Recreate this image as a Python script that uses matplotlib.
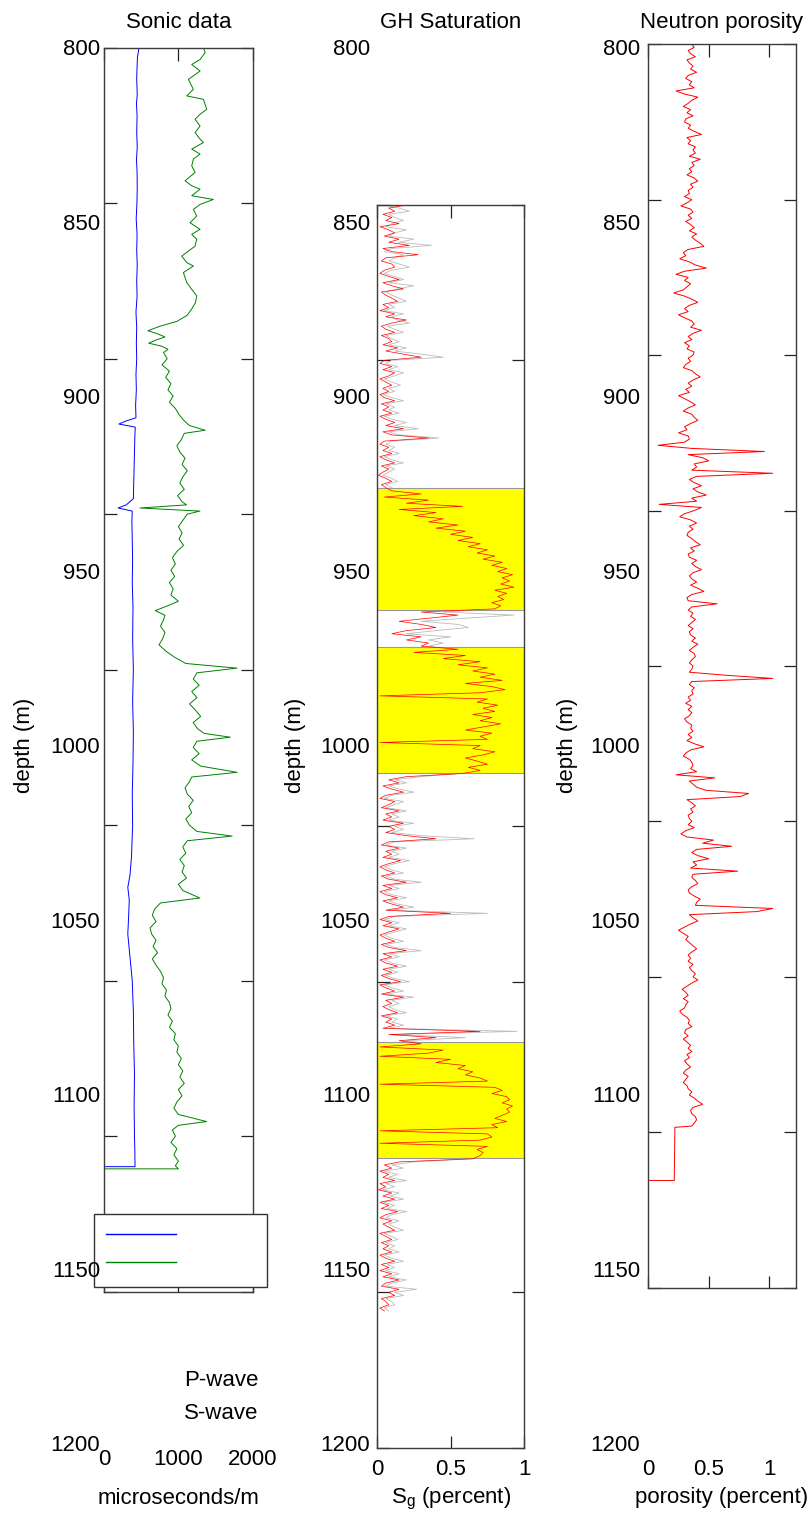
import numpy as np
import matplotlib
matplotlib.use('Agg')
import matplotlib.pyplot as plt

plt.rcParams['font.family'] = ['Liberation Sans', 'DejaVu Sans']
plt.rcParams['mathtext.fontset'] = 'custom'
plt.rcParams['mathtext.rm'] = 'Liberation Sans'
plt.rcParams['mathtext.it'] = 'Liberation Sans:italic'

# ---------------- data ----------------
depth_ticks = [800, 850, 900, 950, 1000, 1050, 1100, 1150, 1200]
depth_ticklabels = ['800', '850', '900', '950', '1000', '1050', '1100', '1150', '1200']

sonic_xticks = [0, 1000, 2000]
sonic_xticklabels = ['0', '1000', '2000']
gh_xticks = [0, 0.5, 1]
gh_xticklabels = ['0', '0.5', '1']
neut_xticks = [0, 0.5, 1]
neut_xticklabels = ['0', '0.5', '1']

sonic_p_depth = [800, 803, 806, 810, 815, 818, 822, 827, 832, 836, 840, 845, 850, 855, 860, 865,
                 870, 875, 880, 885, 890, 895, 900, 905, 910, 915, 919, 920, 921, 922, 925, 930,
                 935, 940, 945, 947, 948, 949, 952, 958, 965, 972, 980, 990, 1000, 1010, 1020,
                 1030, 1040, 1050, 1060, 1066, 1070, 1074, 1080, 1085, 1090, 1095, 1100, 1110,
                 1120, 1130, 1140, 1150, 1155, 1159.8, 1159.8]
sonic_p = [471, 450, 445, 440, 447, 437, 445, 440, 447, 437, 445, 447, 443, 433, 445, 440,
           447, 440, 445, 430, 440, 435, 440, 430, 435, 425, 430, 300, 200, 420, 415, 410,
           405, 400, 395, 300, 190, 380, 375, 380, 385, 380, 390, 385, 395, 385, 395,
           390, 380, 385, 370, 350, 320, 340, 330, 320, 340, 360, 380, 395,
           400, 410, 405, 410, 415, 417, 0]

sonic_s_depth = [800, 801.6, 803.8, 805.4, 807.5, 810.2, 813.4, 815.5, 816.6, 819.8, 821.4, 823,
                 825.2, 827.3, 829.4, 830.5, 832.6, 834.2, 835.8, 838, 840.1, 842.8, 844.4,
                 845.5, 847.6, 848.8, 850.4, 852, 854.1, 856.3, 858.4, 860, 861.6, 863.8, 867,
                 869.1, 870.2, 872.3, 875.5, 877.7, 879.8,
                 882, 884, 886, 888, 889.5, 891, 892, 893, 894, 895, 896, 897, 898, 900, 902, 904,
                 906, 908, 910, 912, 914, 916, 918, 920, 921.5, 923, 924, 926, 928, 930, 932, 934,
                 936, 938, 940, 942, 944, 946, 947, 948, 949, 950, 952, 954, 956, 958, 960, 962,
                 964, 966, 968, 970, 972, 974, 976, 978, 979.5, 981, 982.5, 984, 986, 988, 990,
                 992, 994, 996, 998, 999.5, 1001, 1003, 1005, 1007, 1009, 1011, 1013, 1015, 1017,
                 1019, 1020.5, 1021.7, 1023, 1025, 1027, 1029, 1031, 1033, 1034.5, 1036, 1038,
                 1040, 1042, 1044, 1046, 1048, 1050, 1052, 1053.5, 1055, 1057, 1059, 1061, 1063,
                 1065, 1067, 1069, 1071, 1073.4, 1075, 1077, 1079, 1081, 1083, 1085, 1087, 1089,
                 1091, 1093, 1095, 1097, 1099, 1101, 1103, 1105, 1107, 1109, 1111, 1113, 1115,
                 1117, 1119, 1121, 1123, 1125, 1127, 1129, 1131, 1133, 1135, 1137, 1139, 1141,
                 1143, 1145.3, 1146.5, 1148, 1150, 1152, 1154, 1156, 1158, 1159.5, 1160.5, 1160.5]
sonic_s = [1337, 1360, 1292, 1180, 1292, 1135, 1202, 1113, 1337, 1382, 1292, 1225,
           1292, 1225, 1292, 1337, 1180, 1292, 1202, 1180, 1225, 1090, 1180,
           1292, 1180, 1471, 1292, 1202, 1247, 1158, 1292, 1180, 1247, 1225, 1046,
           1113, 1202, 1068, 1113, 1180, 1247,
           1230, 1180, 1120, 980, 760, 590, 720, 820, 700, 600, 780, 860, 800, 850, 780, 880,
           830, 900, 860, 930, 880, 960, 1010, 1080, 1150, 1360, 1080, 1040, 980, 1020, 1090, 1050,
           1120, 1060, 1020, 1080, 990, 1050, 1110, 485, 1290, 1120, 1060, 1000, 1050, 1010, 1070, 980,
           920, 960, 900, 950, 880, 930, 900, 1000, 850, 690, 820, 800, 760, 820, 790,
           740, 830, 950, 1100, 1790, 1250, 1200, 1280, 1180, 1250, 1150, 1230, 1300, 1200,
           1260, 1350, 1700, 1250, 1200, 1280, 1180, 1300, 1790, 1180, 1150, 1090,
           1120, 1200, 1140, 1180, 1100, 1150, 1250, 1723, 1120, 1060, 1100, 1020, 1080,
           1050, 1110, 1000, 1060, 1290, 760, 680, 650, 700, 620, 640, 700, 660,
           720, 650, 700, 760, 800, 780, 840, 820, 880, 900, 860, 920, 880,
           960, 940, 1000, 980, 1040, 1000, 1060, 1020, 1080, 1000, 1050, 980, 940,
           1000, 1380, 1000, 920, 960, 900, 980, 940, 1000, 960, 1000, 0]

# GH saturation, 1 m samples 800..1156
gh_depth = np.arange(800, 1157, 1)
gh_gray = [
    # 800-891
    .05, .15, .22, .08, .12, .18, .10, .06, .20, .12,
    .08, .25, .15, .37, .10, .05, .18, .12, .08, .15,
    .22, .10, .05, .12, .18, .08, .25, .14, .06, .10,
    .15, .20, .08, .12, .05, .18, .10, .14, .22, .07,
    .12, .18, .06, .10, .15, .08, .20, .12, .30, .45,
    .10, .06, .14, .08, .18, .12, .05, .10, .16, .08,
    .12, .04, .10, .18, .06, .12, .08, .15, .05, .10,
    .20, .12, .28, .08, .15, .42, .10, .06, .12, .08,
    .15, .05, .10, .18, .06, .12, .08, .04, .10, .14,
    .06, .10,
    # 892-930
    .15, .25, .10, .30, .25, .50, .20, .35, .30, .45,
    .40, .50, .45, .55, .55, .60, .60, .65, .65, .70,
    .70, .75, .75, .80, .80, .85, .82, .88, .85, .86,
    .85, .88, .82, .85, .82, .84, .80, .82, .78,
    # 931-941
    .45, .93, .60, .30, .55, .62, .40, .20, .50, .35, .45,
    # 942-983
    .35, .50, .30, .55, .50, .65, .60, .70, .68, .75,
    .72, .80, .65, .75, .82, .72, .30, .72, .70, .78,
    .74, .78, .68, .75, .72, .80, .74, .65, .75, .72,
    .74, .30, .72, .68, .78, .72, .65, .70, .72, .65,
    .68, .55,
    # 984-1069
    .30, .12, .20, .08, .15, .25, .10, .05, .18, .12,
    .06, .20, .10, .15, .08, .25, .12, .18, .10, .30,
    .66, .12, .06, .20, .10, .15, .08, .22, .12, .05,
    .10, .18, .06, .12, .30, .08, .15, .05, .10, .20,
    .08, .14, .25, .10, .75, .12, .05, .15, .08, .20,
    .12, .05, .10, .18, .06, .12, .30, .08, .15, .05,
    .10, .20, .08, .14, .06, .12, .22, .05, .10, .18,
    .06, .25, .10, .15, .08, .12, .20, .06, .14, .10,
    .18, .08, .95, .12, .60, .20,
    # 1070-1107
    .35, .20, .45, .40, .30, .50, .45, .58, .55, .62,
    .62, .68, .72, .40, .78, .82, .78, .85, .86, .84,
    .88, .86, .87, .84, .80, .85, .78, .80, .40, .75,
    .76, .72, .40, .72, .70, .72, .70, .65,
    # 1108-1156
    .25, .10, .18, .05, .14, .08, .20, .06, .12, .04,
    .15, .09, .18, .05, .12, .07, .20, .10, .06, .15,
    .08, .12, .18, .05, .10, .14, .06, .12, .08, .15,
    .05, .10, .18, .07, .12, .06, .15, .08, .20, .10,
    .06, .27, .12, .18, .06, .10, .12, .05, .08]
gh_red = [
    # 800-891
    .20, .08, .12, .04, .10, .06, .15, .02, .08, .12,
    .05, .15, .08, .22, .04, .10, .28, .06, .03, .10,
    .12, .05, .02, .08, .15, .04, .10, .18, .03, .06,
    .10, .14, .04, .08, .02, .12, .06, .20, .10, .03,
    .06, .12, .03, .08, .10, .04, .14, .06, .18, .30,
    .05, .02, .10, .04, .12, .08, .02, .06, .10, .04,
    .08, .02, .05, .12, .03, .08, .04, .10, .02, .06,
    .12, .06, .18, .04, .10, .35, .05, .02, .08, .04,
    .10, .02, .06, .12, .03, .08, .04, .01, .06, .10,
    .03, .06,
    # 892-930
    .10, .30, .05, .35, .20, .58, .15, .40, .25, .45,
    .35, .55, .40, .60, .50, .65, .55, .70, .62, .75,
    .68, .80, .72, .85, .78, .88, .82, .92, .85, .90,
    .84, .93, .80, .88, .82, .86, .78, .84, .80,
    # 931-941
    .30, .55, .35, .15, .30, .40, .20, .10, .30, .20, .35,
    # 942-983
    .30, .55, .25, .60, .45, .70, .55, .75, .65, .80,
    .70, .85, .60, .78, .87, .70, .02, .75, .68, .82,
    .72, .80, .65, .78, .70, .84, .72, .60, .78, .70,
    .75, .02, .70, .65, .80, .72, .60, .68, .75, .62,
    .70, .58,
    # 984-1069
    .20, .08, .15, .04, .10, .18, .06, .02, .12, .08,
    .03, .15, .06, .10, .04, .18, .08, .12, .06, .20,
    .40, .08, .03, .15, .06, .10, .04, .16, .08, .02,
    .06, .12, .03, .08, .20, .04, .10, .02, .06, .14,
    .04, .10, .18, .06, .50, .08, .02, .10, .04, .15,
    .08, .02, .06, .12, .03, .08, .20, .04, .10, .02,
    .06, .14, .04, .10, .03, .08, .16, .02, .06, .12,
    .03, .18, .06, .10, .04, .08, .14, .03, .10, .06,
    .12, .04, .70, .08, .40, .15,
    # 1070-1107
    .30, .02, .45, .35, .02, .50, .40, .60, .55, .65,
    .60, .70, .75, .02, .80, .85, .78, .88, .90, .85,
    .92, .88, .90, .85, .80, .88, .78, .82, .02, .75,
    .78, .70, .02, .75, .68, .72, .70, .65,
    # 1108-1156
    .15, .05, .10, .02, .08, .04, .12, .02, .06, .01,
    .10, .04, .12, .02, .08, .03, .14, .06, .02, .10,
    .04, .08, .12, .02, .06, .10, .03, .08, .04, .10,
    .02, .06, .12, .03, .08, .02, .10, .04, .15, .06,
    .03, .15, .08, .12, .03, .06, .08, .02, .05]
gh_zone_top = [891.1, 942.2, 1069.4]
gh_zone_bottom = [930.3, 982.8, 1106.7]

# neutron porosity, 1 m samples 800..1148, then the bottom step
neut_depth_main = np.arange(800, 1149, 1)
neut_por_main = [
    .36, .38, .33, .35, .39, .32, .34, .37, .35, .40, .33, .31, .36, .34, .38, .23, .30, .41, .36, .33,
    .29, .35, .32, .37, .31, .30, .35, .33, .38, .44, .32, .35, .33, .39, .37, .39, .34, .43, .36, .38,
    .34, .36, .32, .38, .41, .35, .37, .33, .34, .30, .36, .32, .27, .35, .37, .33, .36, .31, .35, .38,
    .34, .40, .36, .39, .43, .46, .33, .29, .31, .26, .34, .39, .48, .30, .23, .33, .30, .35, .32, .29,
    .21, .30, .36, .41, .34, .30, .33, .25, .30, .36, .38, .35, .44, .37, .33, .36, .30, .34, .32, .38,
    .37, .33, .35, .31, .29, .36, .39, .43, .37, .33, .36, .31, .34, .25, .30, .35, .39, .33, .29, .36,
    .38, .41, .35, .30, .32, .25, .33, .34, .30, .08, .36, .96, .33, .45, .50, .38, .40, .36, 1.03, .40,
    .34, .38, .44, .37, .41, .48, .36, .40, .09, .44, .38, .30, .26, .35, .40, .34, .37, .33, .32, .36,
    .39, .43, .35, .38, .33, .34, .40, .36, .39, .44, .37, .34, .36, .40, .35, .41, .46, .36, .32, .33,
    .57, .36, .33, .37, .35, .39, .36, .33, .37, .34, .35, .39, .36, .41, .37, .34, .38, .39, .36, .34,
    .37, .36, .34, .65, 1.03, .36, .34, .38, .36, .37, .33, .35, .31, .36, .33, .36, .34, .30, .32, .36,
    .35, .37, .33, .36, .32, .38, .46, .35, .31, .29, .34, .36, .37, .35, .40, .23, .55, .34, .37, .40,
    .48, .83, .76, .32, .36, .39, .35, .37, .33, .34, .36, .33, .38, .31, .27, .32, .54, .45, .69, .40,
    .36, .41, .50, .37, .40, .35, .74, .37, .36, .39, .41, .36, .33, .34, .38, .43, .40, .39, 1.03, .90,
    .34, .37, .41, .35, .30, .25, .29, .33, .31, .34, .37, .40, .36, .33, .35, .33, .37, .34, .36, .39,
    .37, .41, .36, .32, .28, .31, .33, .29, .33, .31, .30, .26, .28, .32, .34, .33, .36, .31, .30, .33,
    .29, .32, .35, .33, .36, .32, .34, .30, .32, .35, .31, .29, .33, .31, .29, .32, .33, .36, .34, .38,
    .41, .45, .37, .35, .36, .39, .40, .38, .36]
neut_depth_step = [1148.4, 1165.5, 1165.5]
neut_por_step = [0.22, 0.215, 0.0]

# ---------------- layout ----------------
W, H = 809, 1519
FS = 16
LW = 0.7
fig = plt.figure(figsize=(W / 100, H / 100), dpi=100)


def axes_px(x0, y0, x1, y1):
    return fig.add_axes([x0 / W, 1 - y1 / H, (x1 - x0) / W, (y1 - y0) / H])


def data_axes(x0, y0, x1, y1, xlim, xticks):
    ax = axes_px(x0, y0, x1, y1)
    ax.set_xlim(*xlim)
    ax.set_ylim(1200, 800)
    ax.set_xticks(xticks)
    ax.set_yticks(depth_ticks)
    ax.tick_params(direction='in', length=9, width=0.9, color='#222222', top=True, right=True,
                   labelbottom=False, labelleft=False)
    for s in ax.spines.values():
        s.set_color('#3c3c3c')
        s.set_linewidth(1.0)
    return ax


def label_axes(x0, x1, xlim, xticks, xticklabels, xlabel, title, ypad, xpad, ylab_x):
    y0, y1 = 47.2, 1443.3
    ax = axes_px(x0, y0, x1, y1)
    ax.set_facecolor('none')
    for s in ax.spines.values():
        s.set_visible(False)
    ax.set_xlim(*xlim)
    ax.set_ylim(1200, 800)
    ax.set_yticks(depth_ticks)
    ax.set_yticklabels(depth_ticklabels)
    ax.set_xticks(xticks)
    ax.set_xticklabels(xticklabels)
    ax.tick_params(axis='y', length=0, pad=ypad, labelsize=FS)
    ax.tick_params(axis='x', length=0, pad=xpad, labelsize=FS)
    ax.set_title(title, fontsize=FS, pad=13.5)
    ax.set_xlabel(xlabel, fontsize=FS)
    ax.xaxis.set_label_coords(0.5, -(1503.5 - y1) / (y1 - y0))
    ax.xaxis.label.set_verticalalignment('baseline')
    ax.set_ylabel('depth (m)', fontsize=FS)
    ax.yaxis.set_label_coords((ylab_x - x0) / (x1 - x0), 0.5)
    ax.yaxis.label.set_verticalalignment('center')
    return ax


# Sonic panel
ax1 = data_axes(104, 47.7, 252.7, 1291.7, (0, 2000), sonic_xticks)
lp, = ax1.plot(sonic_p, sonic_p_depth, color='#0000ff', lw=LW)
ls, = ax1.plot(sonic_s, sonic_s_depth, color='#008000', lw=LW)
leg = ax1.legend([lp, ls], ['', ''], loc='upper left', bbox_to_anchor=(93.5 / W, 1 - 1213.7 / H),
                 bbox_transform=fig.transFigure, borderaxespad=0, fancybox=False,
                 edgecolor='#333333', framealpha=1, fontsize=FS, handlelength=3.15,
                 handletextpad=3.55, borderpad=0.55, labelspacing=0.3)
leg.get_frame().set_linewidth(1.0)
for h in leg.legend_handles:
    h.set_linewidth(1.0)
fig.text(184.3 / W, 1 - 1378 / H, 'P-wave', fontsize=FS, ha='left', va='center_baseline')
fig.text(184.3 / W, 1 - 1410.7 / H, 'S-wave', fontsize=FS, ha='left', va='center_baseline')

# GH saturation panel
ax2 = data_axes(377, 205, 524.3, 1447.7, (0, 1), gh_xticks)
ax2.plot(gh_gray, gh_depth, color='#bcbcbc', lw=0.6, zorder=1)
for t, b in zip(gh_zone_top, gh_zone_bottom):
    ax2.axhspan(t, b, facecolor='#ffff00', edgecolor='#9a9a9a', lw=0.8, zorder=2)
ax2.plot(gh_red, gh_depth, color='#ff0000', lw=0.5, zorder=3)

# Neutron porosity panel
ax3 = data_axes(648.3, 44.3, 795.7, 1287.7, (0, 1.22), neut_xticks)
ax3.plot(list(neut_por_main) + neut_por_step, list(neut_depth_main) + neut_depth_step,
         color='#ff0000', lw=LW)

# label layers (MATLAB-style shifted labels)
label_axes(104, 252.7, (0, 2000), sonic_xticks, sonic_xticklabels, 'microseconds/m',
           'Sonic data', 2.9, 4.0, 25)
label_axes(377, 524.3, (0, 1), gh_xticks, gh_xticklabels, 'S$_\\mathrm{g}$ (percent)',
           'GH Saturation', 5.0, 11.2, 296)
label_axes(648.3, 795.7, (0, 1.22), neut_xticks, neut_xticklabels, 'porosity (percent)',
           'Neutron porosity', 5.8, 11.2, 568)

fig.savefig('out.png', dpi=100)
